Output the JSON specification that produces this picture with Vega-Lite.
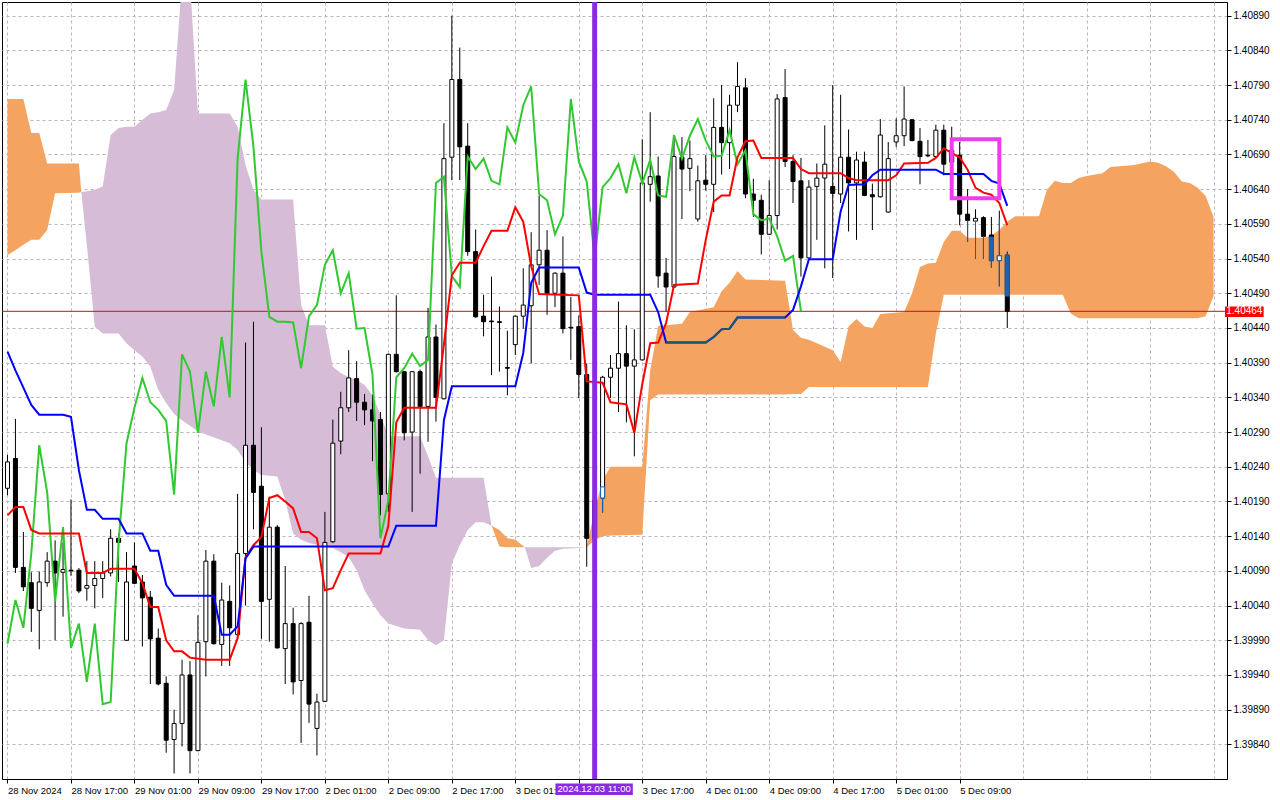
{
"$schema": "https://vega.github.io/schema/vega-lite/v6.json",
"width": 1225, "height": 777,
"autosize": {"type": "none"},
"padding": {"left": 2, "top": 2, "right": 53, "bottom": 21},
"background": "white",
"config": {
 "view": {"stroke": "#000000", "strokeWidth": 1},
 "axis": {"labelFont": "Liberation Sans, Arial, sans-serif", "labelFontSize": 10, "labelColor": "#000000", "domainColor": "#000000", "tickColor": "#000000", "gridDash": [3, 3], "gridWidth": 1, "labelOverlap": false, "labelBound": false, "labelFlush": false},
 "axisY": {"labelOverlap": false, "labelSeparation": 0},
 "axisRight": {"labelOverlap": false}
},
"datasets": {
 "candles": [
{"i":0,"o":1.40209,"h":1.40257,"l":1.40199,"c":1.40247},
{"i":1,"o":1.40252,"h":1.40309,"l":1.40087,"c":1.40095},
{"i":2,"o":1.40095,"h":1.40146,"l":1.40061,"c":1.40067},
{"i":3,"o":1.40073,"h":1.40088,"l":1.40002,"c":1.40036},
{"i":4,"o":1.40033,"h":1.40089,"l":1.39977,"c":1.40074},
{"i":5,"o":1.40073,"h":1.40117,"l":1.40067,"c":1.40104},
{"i":6,"o":1.40104,"h":1.40134,"l":1.39990,"c":1.40087},
{"i":7,"o":1.40088,"h":1.40131,"l":1.40024,"c":1.40092},
{"i":8,"o":1.40091,"h":1.40193,"l":1.40083,"c":1.40090},
{"i":9,"o":1.40091,"h":1.40094,"l":1.40058,"c":1.40061},
{"i":10,"o":1.40065,"h":1.40104,"l":1.40047,"c":1.40069},
{"i":11,"o":1.40069,"h":1.40104,"l":1.40036,"c":1.40079},
{"i":12,"o":1.40079,"h":1.40104,"l":1.40051,"c":1.40087},
{"i":13,"o":1.40087,"h":1.40150,"l":1.40082,"c":1.40137},
{"i":14,"o":1.40137,"h":1.40144,"l":1.40074,"c":1.40131},
{"i":15,"o":1.39990,"h":1.40117,"l":1.39989,"c":1.40074},
{"i":16,"o":1.40097,"h":1.40131,"l":1.40071,"c":1.40072},
{"i":17,"o":1.40074,"h":1.40084,"l":1.39981,"c":1.40051},
{"i":18,"o":1.40052,"h":1.40061,"l":1.39927,"c":1.39992},
{"i":19,"o":1.39993,"h":1.40007,"l":1.39925,"c":1.39927},
{"i":20,"o":1.39928,"h":1.39938,"l":1.39828,"c":1.39846},
{"i":21,"o":1.39847,"h":1.39890,"l":1.39798,"c":1.39870},
{"i":22,"o":1.39870,"h":1.39962,"l":1.39837,"c":1.39940},
{"i":23,"o":1.39940,"h":1.39960,"l":1.39798,"c":1.39831},
{"i":24,"o":1.39831,"h":1.40026,"l":1.39830,"c":1.39987},
{"i":25,"o":1.39988,"h":1.40120,"l":1.39938,"c":1.40104},
{"i":26,"o":1.40104,"h":1.40114,"l":1.39984,"c":1.39985},
{"i":27,"o":1.39984,"h":1.40073,"l":1.39953,"c":1.40048},
{"i":28,"o":1.40046,"h":1.40069,"l":1.39953,"c":1.40008},
{"i":29,"o":1.39998,"h":1.40201,"l":1.39992,"c":1.40115},
{"i":30,"o":1.40115,"h":1.40419,"l":1.40040,"c":1.40271},
{"i":31,"o":1.40271,"h":1.40449,"l":1.40150,"c":1.40203},
{"i":32,"o":1.40212,"h":1.40297,"l":1.39992,"c":1.40046},
{"i":33,"o":1.40049,"h":1.40197,"l":1.39988,"c":1.40153},
{"i":34,"o":1.40153,"h":1.40156,"l":1.39978,"c":1.39979},
{"i":35,"o":1.39978,"h":1.40097,"l":1.39927,"c":1.40014},
{"i":36,"o":1.40014,"h":1.40037,"l":1.39912,"c":1.39930},
{"i":37,"o":1.39932,"h":1.40016,"l":1.39842,"c":1.40014},
{"i":38,"o":1.40016,"h":1.40054,"l":1.39871,"c":1.39898},
{"i":39,"o":1.39863,"h":1.39913,"l":1.39824,"c":1.39901},
{"i":40,"o":1.39902,"h":1.40175,"l":1.39901,"c":1.40131},
{"i":41,"o":1.40132,"h":1.40308,"l":1.40130,"c":1.40274},
{"i":42,"o":1.40277,"h":1.40348,"l":1.40258,"c":1.40325},
{"i":43,"o":1.40325,"h":1.40408,"l":1.40319,"c":1.40368},
{"i":44,"o":1.40367,"h":1.40392,"l":1.40306,"c":1.40333},
{"i":45,"o":1.40333,"h":1.40345,"l":1.40300,"c":1.40322},
{"i":46,"o":1.40322,"h":1.40344,"l":1.40248,"c":1.40306},
{"i":47,"o":1.40308,"h":1.40319,"l":1.40170,"c":1.40200},
{"i":48,"o":1.40201,"h":1.40403,"l":1.40175,"c":1.40402},
{"i":49,"o":1.40402,"h":1.40487,"l":1.40376,"c":1.40377},
{"i":50,"o":1.40377,"h":1.40378,"l":1.40278,"c":1.40289},
{"i":51,"o":1.40290,"h":1.40378,"l":1.40175,"c":1.40377},
{"i":52,"o":1.40377,"h":1.40380,"l":1.40230,"c":1.40327},
{"i":53,"o":1.40327,"h":1.40469,"l":1.40276,"c":1.40427},
{"i":54,"o":1.40427,"h":1.40445,"l":1.40305,"c":1.40340},
{"i":55,"o":1.40338,"h":1.40735,"l":1.40337,"c":1.40684},
{"i":56,"o":1.40686,"h":1.40890,"l":1.40653,"c":1.40798},
{"i":57,"o":1.40798,"h":1.40844,"l":1.40653,"c":1.40701},
{"i":58,"o":1.40702,"h":1.40735,"l":1.40544,"c":1.40550},
{"i":59,"o":1.40550,"h":1.40582,"l":1.40455,"c":1.40456},
{"i":60,"o":1.40457,"h":1.40488,"l":1.40428,"c":1.40449},
{"i":61,"o":1.40450,"h":1.40514,"l":1.40372,"c":1.40449},
{"i":62,"o":1.40449,"h":1.40471,"l":1.40377,"c":1.40448},
{"i":63,"o":1.40383,"h":1.40436,"l":1.40343,"c":1.40382},
{"i":64,"o":1.40416,"h":1.40458,"l":1.40401,"c":1.40457},
{"i":65,"o":1.40457,"h":1.40526,"l":1.40439,"c":1.40473},
{"i":66,"o":1.40472,"h":1.40578,"l":1.40389,"c":1.40531},
{"i":67,"o":1.40531,"h":1.40631,"l":1.40502,"c":1.40552},
{"i":68,"o":1.40552,"h":1.40581,"l":1.40459,"c":1.40490},
{"i":69,"o":1.40490,"h":1.40520,"l":1.40470,"c":1.40519},
{"i":70,"o":1.40519,"h":1.40572,"l":1.40432,"c":1.40439},
{"i":71,"o":1.40441,"h":1.40485,"l":1.40394,"c":1.40440},
{"i":72,"o":1.40442,"h":1.40458,"l":1.40339,"c":1.40373},
{"i":73,"o":1.40373,"h":1.40389,"l":1.40096,"c":1.40137},
{"i":74,"o":1.40137,"h":1.40207,"l":1.40106,"c":1.40192},
{"i":75,"o":1.40195,"h":1.40371,"l":1.40174,"c":1.40369},
{"i":76,"o":1.40369,"h":1.40401,"l":1.40339,"c":1.40382},
{"i":77,"o":1.40382,"h":1.40478,"l":1.40319,"c":1.40403},
{"i":78,"o":1.40403,"h":1.40444,"l":1.40304,"c":1.40385},
{"i":79,"o":1.40385,"h":1.40438,"l":1.40255,"c":1.40394},
{"i":80,"o":1.40394,"h":1.40712,"l":1.40393,"c":1.40649},
{"i":81,"o":1.40647,"h":1.40751,"l":1.40622,"c":1.40658},
{"i":82,"o":1.40659,"h":1.40687,"l":1.40498,"c":1.40515},
{"i":83,"o":1.40519,"h":1.40541,"l":1.40464,"c":1.40499},
{"i":84,"o":1.40499,"h":1.40717,"l":1.40498,"c":1.40687},
{"i":85,"o":1.40686,"h":1.40715,"l":1.40597,"c":1.40669},
{"i":86,"o":1.40670,"h":1.40710,"l":1.40637,"c":1.40684},
{"i":87,"o":1.40597,"h":1.40674,"l":1.40593,"c":1.40652},
{"i":88,"o":1.40653,"h":1.40689,"l":1.40638,"c":1.40647},
{"i":89,"o":1.40647,"h":1.40771,"l":1.40607,"c":1.40729},
{"i":90,"o":1.40729,"h":1.40790,"l":1.40661,"c":1.40707},
{"i":91,"o":1.40707,"h":1.40776,"l":1.40669,"c":1.40761},
{"i":92,"o":1.40761,"h":1.40823,"l":1.40751,"c":1.40788},
{"i":93,"o":1.40786,"h":1.40800,"l":1.40627,"c":1.40633},
{"i":94,"o":1.40633,"h":1.40655,"l":1.40600,"c":1.40624},
{"i":95,"o":1.40624,"h":1.40632,"l":1.40546,"c":1.40575},
{"i":96,"o":1.40575,"h":1.40653,"l":1.40574,"c":1.40602},
{"i":97,"o":1.40602,"h":1.40777,"l":1.40582,"c":1.40770},
{"i":98,"o":1.40772,"h":1.40813,"l":1.40672,"c":1.40680},
{"i":99,"o":1.40680,"h":1.40689,"l":1.40620,"c":1.40651},
{"i":100,"o":1.40652,"h":1.40685,"l":1.40514,"c":1.40541},
{"i":101,"o":1.40541,"h":1.40653,"l":1.40540,"c":1.40643},
{"i":102,"o":1.40644,"h":1.40677,"l":1.40567,"c":1.40656},
{"i":103,"o":1.40656,"h":1.40732,"l":1.40526,"c":1.40676},
{"i":104,"o":1.40644,"h":1.40790,"l":1.40512,"c":1.40634},
{"i":105,"o":1.40633,"h":1.40776,"l":1.40620,"c":1.40686},
{"i":106,"o":1.40686,"h":1.40726,"l":1.40579,"c":1.40649},
{"i":107,"o":1.40649,"h":1.40694,"l":1.40567,"c":1.40682},
{"i":108,"o":1.40679,"h":1.40694,"l":1.40630,"c":1.40631},
{"i":109,"o":1.40632,"h":1.40648,"l":1.40581,"c":1.40629},
{"i":110,"o":1.40629,"h":1.40741,"l":1.40628,"c":1.40718},
{"i":111,"o":1.40607,"h":1.40708,"l":1.40606,"c":1.40684},
{"i":112,"o":1.40708,"h":1.40742,"l":1.40701,"c":1.40717},
{"i":113,"o":1.40717,"h":1.40788,"l":1.40702,"c":1.40741},
{"i":114,"o":1.40740,"h":1.40741,"l":1.40709,"c":1.40710},
{"i":115,"o":1.40709,"h":1.40728,"l":1.40647,"c":1.40687},
{"i":116,"o":1.40689,"h":1.40711,"l":1.40686,"c":1.40688},
{"i":117,"o":1.40687,"h":1.40733,"l":1.40686,"c":1.40725},
{"i":118,"o":1.40725,"h":1.40733,"l":1.40660,"c":1.40676},
{"i":119,"o":1.40679,"h":1.40730,"l":1.40668,"c":1.40696},
{"i":120,"o":1.40689,"h":1.40708,"l":1.40588,"c":1.40604},
{"i":121,"o":1.40604,"h":1.40640,"l":1.40564,"c":1.40595},
{"i":122,"o":1.40594,"h":1.40611,"l":1.40540,"c":1.40598},
{"i":123,"o":1.40599,"h":1.40601,"l":1.40540,"c":1.40572},
{"i":124,"o":1.40574,"h":1.40600,"l":1.40527,"c":1.40537},
{"i":125,"o":1.40537,"h":1.40609,"l":1.40500,"c":1.40544},
{"i":126,"o":1.40545,"h":1.40550,"l":1.40440,"c":1.40464}
 ],
 "chikou": [
{"i":0,"v":1.39985},{"i":1,"v":1.40048},{"i":2,"v":1.40008},{"i":3,"v":1.40115},{"i":4,"v":1.40271},{"i":5,"v":1.40203},{"i":6,"v":1.40046},{"i":7,"v":1.40153},{"i":8,"v":1.39979},{"i":9,"v":1.40014},
{"i":10,"v":1.39930},{"i":11,"v":1.40014},{"i":12,"v":1.39898},{"i":13,"v":1.39901},{"i":14,"v":1.40131},{"i":15,"v":1.40274},{"i":16,"v":1.40325},{"i":17,"v":1.40368},{"i":18,"v":1.40333},{"i":19,"v":1.40322},
{"i":20,"v":1.40306},{"i":21,"v":1.40200},{"i":22,"v":1.40402},{"i":23,"v":1.40377},{"i":24,"v":1.40289},{"i":25,"v":1.40377},{"i":26,"v":1.40327},{"i":27,"v":1.40427},{"i":28,"v":1.40340},{"i":29,"v":1.40684},
{"i":30,"v":1.40798},{"i":31,"v":1.40701},{"i":32,"v":1.40550},{"i":33,"v":1.40456},{"i":34,"v":1.40449},{"i":35,"v":1.40449},{"i":36,"v":1.40448},{"i":37,"v":1.40382},{"i":38,"v":1.40457},{"i":39,"v":1.40473},
{"i":40,"v":1.40531},{"i":41,"v":1.40552},{"i":42,"v":1.40490},{"i":43,"v":1.40519},{"i":44,"v":1.40439},{"i":45,"v":1.40440},{"i":46,"v":1.40373},{"i":47,"v":1.40137},{"i":48,"v":1.40192},{"i":49,"v":1.40369},
{"i":50,"v":1.40382},{"i":51,"v":1.40403},{"i":52,"v":1.40385},{"i":53,"v":1.40394},{"i":54,"v":1.40649},{"i":55,"v":1.40658},{"i":56,"v":1.40515},{"i":57,"v":1.40499},{"i":58,"v":1.40687},{"i":59,"v":1.40669},
{"i":60,"v":1.40684},{"i":61,"v":1.40652},{"i":62,"v":1.40647},{"i":63,"v":1.40729},{"i":64,"v":1.40707},{"i":65,"v":1.40761},{"i":66,"v":1.40788},{"i":67,"v":1.40633},{"i":68,"v":1.40624},{"i":69,"v":1.40575},
{"i":70,"v":1.40602},{"i":71,"v":1.40770},{"i":72,"v":1.40680},{"i":73,"v":1.40651},{"i":74,"v":1.40541},{"i":75,"v":1.40643},{"i":76,"v":1.40656},{"i":77,"v":1.40676},{"i":78,"v":1.40634},{"i":79,"v":1.40686},
{"i":80,"v":1.40649},{"i":81,"v":1.40682},{"i":82,"v":1.40631},{"i":83,"v":1.40629},{"i":84,"v":1.40718},{"i":85,"v":1.40684},{"i":86,"v":1.40717},{"i":87,"v":1.40741},{"i":88,"v":1.40710},{"i":89,"v":1.40687},
{"i":90,"v":1.40688},{"i":91,"v":1.40725},{"i":92,"v":1.40676},{"i":93,"v":1.40696},{"i":94,"v":1.40604},{"i":95,"v":1.40595},{"i":96,"v":1.40598},{"i":97,"v":1.40572},{"i":98,"v":1.40537},{"i":99,"v":1.40544},
{"i":100,"v":1.40464}
 ],
 "tenkan": [
{"i":0,"v":1.40170},{"i":1,"v":1.40182},{"i":2,"v":1.40182},{"i":3,"v":1.40149},{"i":4,"v":1.40144},{"i":9,"v":1.40144},{"i":10,"v":1.40087},{"i":12,"v":1.40087},{"i":13,"v":1.40093},{"i":16,"v":1.40093},
{"i":17,"v":1.40072},{"i":18,"v":1.40038},{"i":19,"v":1.40038},{"i":20,"v":1.39990},{"i":21,"v":1.39974},{"i":22,"v":1.39974},{"i":23,"v":1.39965},{"i":25,"v":1.39962},{"i":28,"v":1.39962},{"i":29,"v":1.39993},
{"i":30,"v":1.40110},{"i":31,"v":1.40127},{"i":32,"v":1.40139},{"i":33,"v":1.40195},{"i":34,"v":1.40199},{"i":35,"v":1.40190},{"i":36,"v":1.40180},{"i":37,"v":1.40146},{"i":38,"v":1.40146},{"i":39,"v":1.40137},
{"i":40,"v":1.40062},{"i":41,"v":1.40065},{"i":42,"v":1.40091},{"i":43,"v":1.40115},{"i":47,"v":1.40115},{"i":48,"v":1.40155},{"i":49,"v":1.40304},{"i":50,"v":1.40325},{"i":54,"v":1.40325},{"i":55,"v":1.40416},
{"i":56,"v":1.40516},{"i":57,"v":1.40534},{"i":59,"v":1.40534},{"i":60,"v":1.40558},{"i":61,"v":1.40580},{"i":63,"v":1.40580},{"i":64,"v":1.40614},{"i":65,"v":1.40593},{"i":66,"v":1.40529},{"i":67,"v":1.40489},
{"i":72,"v":1.40487},{"i":73,"v":1.40363},{"i":75,"v":1.40361},{"i":76,"v":1.40333},{"i":78,"v":1.40330},{"i":79,"v":1.40289},{"i":80,"v":1.40359},{"i":81,"v":1.40418},{"i":82,"v":1.40419},{"i":83,"v":1.40447},
{"i":84,"v":1.40502},{"i":87,"v":1.40504},{"i":88,"v":1.40567},{"i":89,"v":1.40622},{"i":90,"v":1.40631},{"i":91,"v":1.40631},{"i":92,"v":1.40686},{"i":93,"v":1.40709},{"i":94,"v":1.40710},{"i":95,"v":1.40685},
{"i":99,"v":1.40685},{"i":100,"v":1.40669},{"i":101,"v":1.40663},{"i":105,"v":1.40663},{"i":106,"v":1.40656},{"i":107,"v":1.40653},{"i":111,"v":1.40653},{"i":112,"v":1.40660},{"i":113,"v":1.40677},{"i":116,"v":1.40678},
{"i":117,"v":1.40685},{"i":118,"v":1.40699},{"i":119,"v":1.40692},{"i":120,"v":1.40686},{"i":121,"v":1.40668},{"i":122,"v":1.40642},{"i":123,"v":1.40635},{"i":124,"v":1.40632},{"i":125,"v":1.40620},{"i":126,"v":1.40588}
 ],
 "kijun": [
{"i":0,"v":1.40406},{"i":1,"v":1.40379},{"i":2,"v":1.40354},{"i":3,"v":1.40329},{"i":4,"v":1.40315},{"i":7,"v":1.40315},{"i":8,"v":1.40312},{"i":9,"v":1.40235},{"i":10,"v":1.40178},{"i":11,"v":1.40178},
{"i":12,"v":1.40165},{"i":14,"v":1.40165},{"i":15,"v":1.40144},{"i":17,"v":1.40144},{"i":18,"v":1.40119},{"i":19,"v":1.40119},{"i":20,"v":1.40070},{"i":21,"v":1.40054},{"i":26,"v":1.40054},{"i":27,"v":1.39998},
{"i":28,"v":1.39998},{"i":29,"v":1.40010},{"i":30,"v":1.40108},{"i":31,"v":1.40125},{"i":48,"v":1.40125},{"i":49,"v":1.40155},{"i":54,"v":1.40155},{"i":55,"v":1.40307},{"i":56,"v":1.40356},{"i":64,"v":1.40356},
{"i":65,"v":1.40404},{"i":66,"v":1.40505},{"i":67,"v":1.40527},{"i":72,"v":1.40527},{"i":73,"v":1.40491},{"i":74,"v":1.40488},{"i":81,"v":1.40488},{"i":82,"v":1.40463},{"i":83,"v":1.40419},{"i":88,"v":1.40419},
{"i":89,"v":1.40427},{"i":90,"v":1.40438},{"i":91,"v":1.40439},{"i":92,"v":1.40455},{"i":98,"v":1.40455},{"i":99,"v":1.40466},{"i":100,"v":1.40500},{"i":101,"v":1.40539},{"i":104,"v":1.40539},{"i":105,"v":1.40608},
{"i":106,"v":1.40646},{"i":108,"v":1.40647},{"i":109,"v":1.40660},{"i":110,"v":1.40668},{"i":117,"v":1.40668},{"i":118,"v":1.40662},{"i":123,"v":1.40662},{"i":124,"v":1.40652},{"i":125,"v":1.40648},{"i":126,"v":1.40616}
 ],
 "cloud": [
{"i":0,"up":1.40770,"lo":1.40545,"kind":"A","seg":1},{"i":1,"up":1.40770,"lo":1.40552,"kind":"A","seg":1},{"i":2,"up":1.40770,"lo":1.40560,"kind":"A","seg":1},{"i":3,"up":1.40721,"lo":1.40567,"kind":"A","seg":1},{"i":4,"up":1.40721,"lo":1.40567,"kind":"A","seg":1},{"i":5,"up":1.40677,"lo":1.40581,"kind":"A","seg":1},{"i":6,"up":1.40677,"lo":1.40634,"kind":"A","seg":1},{"i":9,"up":1.40677,"lo":1.40635,"kind":"A","seg":1},{"i":9.3,"up":1.40636,"lo":1.40636,"kind":"A","seg":1},
{"i":9.3,"up":1.40636,"lo":1.40636,"kind":"B","seg":2},{"i":10,"up":1.40637,"lo":1.40560,"kind":"B","seg":2},{"i":11,"up":1.40639,"lo":1.40442,"kind":"B","seg":2},{"i":12,"up":1.40644,"lo":1.40432,"kind":"B","seg":2},{"i":13,"up":1.40718,"lo":1.40432,"kind":"B","seg":2},{"i":14,"up":1.40728,"lo":1.40432,"kind":"B","seg":2},{"i":15,"up":1.40730,"lo":1.40418,"kind":"B","seg":2},{"i":16,"up":1.40730,"lo":1.40408,"kind":"B","seg":2},{"i":17,"up":1.40740,"lo":1.40399,"kind":"B","seg":2},{"i":18,"up":1.40749,"lo":1.40384,"kind":"B","seg":2},{"i":19,"up":1.40751,"lo":1.40351,"kind":"B","seg":2},{"i":20,"up":1.40754,"lo":1.40332,"kind":"B","seg":2},{"i":21,"up":1.40783,"lo":1.40316,"kind":"B","seg":2},{"i":22,"up":1.40941,"lo":1.40307,"kind":"B","seg":2},{"i":23,"up":1.40941,"lo":1.40299,"kind":"B","seg":2},{"i":24,"up":1.40749,"lo":1.40291,"kind":"B","seg":2},{"i":28,"up":1.40749,"lo":1.40274,"kind":"B","seg":2},{"i":29,"up":1.40730,"lo":1.40264,"kind":"B","seg":2},{"i":30,"up":1.40675,"lo":1.40247,"kind":"B","seg":2},{"i":31,"up":1.40639,"lo":1.40235,"kind":"B","seg":2},{"i":32,"up":1.40625,"lo":1.40228,"kind":"B","seg":2},{"i":34,"up":1.40625,"lo":1.40226,"kind":"B","seg":2},{"i":35,"up":1.40625,"lo":1.40192,"kind":"B","seg":2},{"i":36,"up":1.40625,"lo":1.40144,"kind":"B","seg":2},{"i":37,"up":1.40473,"lo":1.40135,"kind":"B","seg":2},{"i":38,"up":1.40444,"lo":1.40130,"kind":"B","seg":2},{"i":40,"up":1.40444,"lo":1.40125,"kind":"B","seg":2},{"i":41,"up":1.40384,"lo":1.40123,"kind":"B","seg":2},{"i":42,"up":1.40375,"lo":1.40117,"kind":"B","seg":2},{"i":43,"up":1.40369,"lo":1.40110,"kind":"B","seg":2},{"i":44,"up":1.40365,"lo":1.40091,"kind":"B","seg":2},{"i":45,"up":1.40358,"lo":1.40062,"kind":"B","seg":2},{"i":46,"up":1.40343,"lo":1.40043,"kind":"B","seg":2},{"i":47,"up":1.40315,"lo":1.40026,"kind":"B","seg":2},{"i":48,"up":1.40284,"lo":1.40014,"kind":"B","seg":2},{"i":50,"up":1.40284,"lo":1.40007,"kind":"B","seg":2},{"i":52,"up":1.40284,"lo":1.40005,"kind":"B","seg":2},{"i":53,"up":1.40255,"lo":1.39990,"kind":"B","seg":2},{"i":54,"up":1.40224,"lo":1.39983,"kind":"B","seg":2},{"i":55,"up":1.40224,"lo":1.39990,"kind":"B","seg":2},{"i":56,"up":1.40224,"lo":1.40101,"kind":"B","seg":2},{"i":57,"up":1.40224,"lo":1.40127,"kind":"B","seg":2},{"i":58,"up":1.40224,"lo":1.40149,"kind":"B","seg":2},{"i":59,"up":1.40224,"lo":1.40160,"kind":"B","seg":2},{"i":60,"up":1.40224,"lo":1.40160,"kind":"B","seg":2},{"i":61,"up":1.40155,"lo":1.40155,"kind":"B","seg":2},
{"i":61,"up":1.40155,"lo":1.40155,"kind":"A","seg":3},{"i":62,"up":1.40149,"lo":1.40125,"kind":"A","seg":3},{"i":63,"up":1.40137,"lo":1.40124,"kind":"A","seg":3},{"i":64,"up":1.40135,"lo":1.40124,"kind":"A","seg":3},{"i":65,"up":1.40126,"lo":1.40124,"kind":"A","seg":3},{"i":65.2,"up":1.40124,"lo":1.40124,"kind":"A","seg":3},
{"i":65.2,"up":1.40124,"lo":1.40124,"kind":"B","seg":4},{"i":66,"up":1.40124,"lo":1.40094,"kind":"B","seg":4},{"i":67,"up":1.40124,"lo":1.40097,"kind":"B","seg":4},{"i":68,"up":1.40124,"lo":1.40109,"kind":"B","seg":4},{"i":69,"up":1.40124,"lo":1.40119,"kind":"B","seg":4},{"i":70,"up":1.40124,"lo":1.40122,"kind":"B","seg":4},{"i":72,"up":1.40124,"lo":1.40123,"kind":"B","seg":4},{"i":73,"up":1.40124,"lo":1.40124,"kind":"B","seg":4},
{"i":73,"up":1.40124,"lo":1.40124,"kind":"A","seg":5},{"i":74,"up":1.40178,"lo":1.40135,"kind":"A","seg":5},{"i":75,"up":1.40221,"lo":1.40140,"kind":"A","seg":5},{"i":76,"up":1.40240,"lo":1.40141,"kind":"A","seg":5},{"i":80,"up":1.40240,"lo":1.40142,"kind":"A","seg":5},{"i":81,"up":1.40379,"lo":1.40336,"kind":"A","seg":5},{"i":82,"up":1.40443,"lo":1.40344,"kind":"A","seg":5},{"i":85,"up":1.40446,"lo":1.40344,"kind":"A","seg":5},{"i":86,"up":1.40463,"lo":1.40344,"kind":"A","seg":5},{"i":89,"up":1.40470,"lo":1.40344,"kind":"A","seg":5},{"i":90,"up":1.40493,"lo":1.40344,"kind":"A","seg":5},{"i":91,"up":1.40505,"lo":1.40344,"kind":"A","seg":5},{"i":92,"up":1.40522,"lo":1.40344,"kind":"A","seg":5},{"i":93,"up":1.40510,"lo":1.40344,"kind":"A","seg":5},{"i":98,"up":1.40508,"lo":1.40344,"kind":"A","seg":5},{"i":99,"up":1.40437,"lo":1.40345,"kind":"A","seg":5},{"i":100,"up":1.40426,"lo":1.40345,"kind":"A","seg":5},{"i":101,"up":1.40423,"lo":1.40355,"kind":"A","seg":5},{"i":104,"up":1.40408,"lo":1.40355,"kind":"A","seg":5},{"i":105,"up":1.40391,"lo":1.40355,"kind":"A","seg":5},{"i":106,"up":1.40442,"lo":1.40355,"kind":"A","seg":5},{"i":107,"up":1.40453,"lo":1.40355,"kind":"A","seg":5},{"i":108,"up":1.40442,"lo":1.40355,"kind":"A","seg":5},{"i":109,"up":1.40440,"lo":1.40355,"kind":"A","seg":5},{"i":110,"up":1.40460,"lo":1.40355,"kind":"A","seg":5},{"i":113,"up":1.40463,"lo":1.40355,"kind":"A","seg":5},{"i":114,"up":1.40490,"lo":1.40355,"kind":"A","seg":5},{"i":115,"up":1.40528,"lo":1.40355,"kind":"A","seg":5},{"i":116,"up":1.40533,"lo":1.40355,"kind":"A","seg":5},{"i":117,"up":1.40534,"lo":1.40432,"kind":"A","seg":5},{"i":118,"up":1.40564,"lo":1.40488,"kind":"A","seg":5},{"i":119,"up":1.40580,"lo":1.40488,"kind":"A","seg":5},{"i":120,"up":1.40580,"lo":1.40488,"kind":"A","seg":5},{"i":121,"up":1.40570,"lo":1.40488,"kind":"A","seg":5},{"i":123,"up":1.40570,"lo":1.40488,"kind":"A","seg":5},{"i":124,"up":1.40573,"lo":1.40488,"kind":"A","seg":5},{"i":125,"up":1.40581,"lo":1.40488,"kind":"A","seg":5},{"i":126,"up":1.40593,"lo":1.40488,"kind":"A","seg":5},{"i":127,"up":1.40601,"lo":1.40488,"kind":"A","seg":5},{"i":130,"up":1.40601,"lo":1.40488,"kind":"A","seg":5},{"i":131,"up":1.40639,"lo":1.40488,"kind":"A","seg":5},{"i":132,"up":1.40652,"lo":1.40488,"kind":"A","seg":5},{"i":133,"up":1.40649,"lo":1.40488,"kind":"A","seg":5},{"i":134,"up":1.40649,"lo":1.40461,"kind":"A","seg":5},{"i":135,"up":1.40656,"lo":1.40454,"kind":"A","seg":5},{"i":136,"up":1.40659,"lo":1.40454,"kind":"A","seg":5},{"i":138,"up":1.40663,"lo":1.40454,"kind":"A","seg":5},{"i":139,"up":1.40672,"lo":1.40454,"kind":"A","seg":5},{"i":142,"up":1.40675,"lo":1.40454,"kind":"A","seg":5},{"i":144,"up":1.40680,"lo":1.40454,"kind":"A","seg":5},{"i":145,"up":1.40678,"lo":1.40454,"kind":"A","seg":5},{"i":146,"up":1.40673,"lo":1.40454,"kind":"A","seg":5},{"i":147,"up":1.40665,"lo":1.40454,"kind":"A","seg":5},{"i":148,"up":1.40651,"lo":1.40454,"kind":"A","seg":5},{"i":149,"up":1.40649,"lo":1.40454,"kind":"A","seg":5},{"i":150,"up":1.40642,"lo":1.40454,"kind":"A","seg":5},{"i":151,"up":1.40630,"lo":1.40457,"kind":"A","seg":5},{"i":152,"up":1.40600,"lo":1.40486,"kind":"A","seg":5}
 ],
 "blue": [
{"i":75,"lo":1.40174,"hi":1.40195,"part":"wick"},{"i":75,"lo":1.40195,"hi":1.40211,"part":"hollow"},
{"i":121,"lo":1.40564,"hi":1.40595,"part":"wick"},{"i":122,"lo":1.40540,"hi":1.40594,"part":"wick"},{"i":123,"lo":1.40540,"hi":1.40572,"part":"wick"},
{"i":124,"lo":1.40527,"hi":1.40537,"part":"wick"},{"i":124,"lo":1.40537,"hi":1.40571,"part":"body"},
{"i":125,"lo":1.40500,"hi":1.40598,"part":"wick"},{"i":125,"lo":1.40537,"hi":1.40544,"part":"hollow"},
{"i":126,"lo":1.40545,"hi":1.40548,"part":"wick"},{"i":126,"lo":1.40486,"hi":1.40545,"part":"body"}
 ]
},
"layer": [
 {
  "data": {"name": "cloud"},
  "mark": {"type": "area", "clip": true, "interpolate": "linear"},
  "encoding": {
   "x": {"field": "i", "type": "quantitative", "scale": {"domain": [-0.0625, 153.0625], "nice": false, "zero": false},
    "axis": {"orient": "bottom", "title": null, "grid": true, "gridColor": "#c4b0c4",
     "values": [0,4,8,12,16,20,24,28,32,36,40,44,48,52,56,60,64,68,72,76,80,84,88,92,96,100,104,108,112,116,120,124,128,132,136,140,144,148,152],
     "labelExpr": "(datum.value % 8 === 0 && datum.value <= 120) ? ['28 Nov 2024','28 Nov 17:00','29 Nov 01:00','29 Nov 09:00','29 Nov 17:00','2 Dec 01:00','2 Dec 09:00','2 Dec 17:00','3 Dec 01:','','3 Dec 17:00','4 Dec 01:00','4 Dec 09:00','4 Dec 17:00','5 Dec 01:00','5 Dec 09:00'][datum.value / 8] : ''",
     "labelAlign": "left", "labelBaseline": "top", "labelPadding": 2, "labelOffset": 0, "labelOverlap": false, "labelFlush": false, "labelFontSize": 9.5,
     "tickSize": 4, "tickOpacity": {"condition": {"test": "datum.value % 8 === 0 && datum.value <= 120", "value": 1}, "value": 0}}},
   "y": {"field": "up", "type": "quantitative", "stack": null, "scale": {"domain": [1.397901, 1.409097], "nice": false, "zero": false},
    "axis": {"orient": "right", "title": null, "grid": true, "gridColor": "#b4b8b0", "format": ".5f", "values": [1.3984,1.3989,1.3994,1.3999,1.4004,1.4009,1.4014,1.4019,1.4024,1.4029,1.4034,1.4039,1.4044,1.4049,1.4054,1.4059,1.4064,1.4069,1.4074,1.4079,1.4084,1.4089], "tickSize": 4, "labelPadding": 2, "labelOverlap": false, "labelFlush": false, "labelBound": false}},
   "y2": {"field": "lo"},
   "color": {"field": "kind", "type": "nominal", "scale": {"domain": ["A", "B"], "range": ["#f4a460", "#d6bcd6"]}, "legend": null},
   "detail": {"field": "seg", "type": "nominal"}
  }
 },
 {
  "data": {"values": [{}]},
  "mark": {"type": "rule", "color": "#c81414", "strokeWidth": 1},
  "encoding": {"y": {"datum": 1.40464, "type": "quantitative", "scale": {"domain": [1.397901, 1.409097], "nice": false, "zero": false}, "axis": {"orient": "right", "title": null, "grid": true, "gridColor": "#b4b8b0", "format": ".5f", "values": [1.3984,1.3989,1.3994,1.3999,1.4004,1.4009,1.4014,1.4019,1.4024,1.4029,1.4034,1.4039,1.4044,1.4049,1.4054,1.4059,1.4064,1.4069,1.4074,1.4079,1.4084,1.4089], "tickSize": 4, "labelPadding": 2, "labelOverlap": false, "labelFlush": false, "labelBound": false}}}
 },
 {
  "data": {"name": "candles"},
  "mark": {"type": "rule", "color": "#000000", "strokeWidth": 1, "clip": true},
  "encoding": {
   "x": {"field": "i", "type": "quantitative", "scale": {"domain": [-0.0625, 153.0625], "nice": false, "zero": false}, "axis": {"title": null}},
   "y": {"field": "l", "type": "quantitative", "scale": {"domain": [1.397901, 1.409097], "nice": false, "zero": false}, "axis": {"orient": "right", "title": null, "grid": true, "gridColor": "#b4b8b0", "format": ".5f", "values": [1.3984,1.3989,1.3994,1.3999,1.4004,1.4009,1.4014,1.4019,1.4024,1.4029,1.4034,1.4039,1.4044,1.4049,1.4054,1.4059,1.4064,1.4069,1.4074,1.4079,1.4084,1.4089], "tickSize": 4, "labelPadding": 2, "labelOverlap": false, "labelFlush": false, "labelBound": false}},
   "y2": {"field": "h"}
  }
 },
 {
  "data": {"name": "candles"},
  "mark": {"type": "bar", "width": 4, "stroke": "#000000", "strokeWidth": 1, "clip": true},
  "encoding": {
   "x": {"field": "i", "type": "quantitative", "scale": {"domain": [-0.0625, 153.0625], "nice": false, "zero": false}, "axis": {"title": null}},
   "y": {"field": "o", "type": "quantitative", "scale": {"domain": [1.397901, 1.409097], "nice": false, "zero": false}, "axis": {"orient": "right", "title": null, "grid": true, "gridColor": "#b4b8b0", "format": ".5f", "values": [1.3984,1.3989,1.3994,1.3999,1.4004,1.4009,1.4014,1.4019,1.4024,1.4029,1.4034,1.4039,1.4044,1.4049,1.4054,1.4059,1.4064,1.4069,1.4074,1.4079,1.4084,1.4089], "tickSize": 4, "labelPadding": 2, "labelOverlap": false, "labelFlush": false, "labelBound": false}},
   "y2": {"field": "c"},
   "fill": {"condition": {"test": "datum.c >= datum.o", "value": "#ffffff"}, "value": "#000000"}
  }
 },
 {
  "data": {"name": "blue"},
  "transform": [{"filter": "datum.part === 'wick'"}],
  "mark": {"type": "rule", "color": "#1a64b4", "strokeWidth": 1, "clip": true},
  "encoding": {
   "x": {"field": "i", "type": "quantitative", "scale": {"domain": [-0.0625, 153.0625], "nice": false, "zero": false}, "axis": {"title": null}},
   "y": {"field": "lo", "type": "quantitative", "scale": {"domain": [1.397901, 1.409097], "nice": false, "zero": false}, "axis": {"orient": "right", "title": null, "grid": true, "gridColor": "#b4b8b0", "format": ".5f", "values": [1.3984,1.3989,1.3994,1.3999,1.4004,1.4009,1.4014,1.4019,1.4024,1.4029,1.4034,1.4039,1.4044,1.4049,1.4054,1.4059,1.4064,1.4069,1.4074,1.4079,1.4084,1.4089], "tickSize": 4, "labelPadding": 2, "labelOverlap": false, "labelFlush": false, "labelBound": false}},
   "y2": {"field": "hi"}
  }
 },
 {
  "data": {"name": "blue"},
  "transform": [{"filter": "datum.part !== 'wick'"}],
  "mark": {"type": "bar", "width": 4, "stroke": "#1a64b4", "strokeWidth": 1, "clip": true},
  "encoding": {
   "x": {"field": "i", "type": "quantitative", "scale": {"domain": [-0.0625, 153.0625], "nice": false, "zero": false}, "axis": {"title": null}},
   "y": {"field": "lo", "type": "quantitative", "scale": {"domain": [1.397901, 1.409097], "nice": false, "zero": false}, "axis": {"orient": "right", "title": null, "grid": true, "gridColor": "#b4b8b0", "format": ".5f", "values": [1.3984,1.3989,1.3994,1.3999,1.4004,1.4009,1.4014,1.4019,1.4024,1.4029,1.4034,1.4039,1.4044,1.4049,1.4054,1.4059,1.4064,1.4069,1.4074,1.4079,1.4084,1.4089], "tickSize": 4, "labelPadding": 2, "labelOverlap": false, "labelFlush": false, "labelBound": false}},
   "y2": {"field": "hi"},
   "fill": {"condition": {"test": "datum.part === 'body'", "value": "#1a64b4"}, "value": "#ffffff"}
  }
 },
 {
  "data": {"name": "chikou"},
  "mark": {"type": "line", "color": "#32c832", "strokeWidth": 2, "clip": true},
  "encoding": {
   "x": {"field": "i", "type": "quantitative", "scale": {"domain": [-0.0625, 153.0625], "nice": false, "zero": false}, "axis": {"title": null}},
   "y": {"field": "v", "type": "quantitative", "scale": {"domain": [1.397901, 1.409097], "nice": false, "zero": false}, "axis": {"orient": "right", "title": null, "grid": true, "gridColor": "#b4b8b0", "format": ".5f", "values": [1.3984,1.3989,1.3994,1.3999,1.4004,1.4009,1.4014,1.4019,1.4024,1.4029,1.4034,1.4039,1.4044,1.4049,1.4054,1.4059,1.4064,1.4069,1.4074,1.4079,1.4084,1.4089], "tickSize": 4, "labelPadding": 2, "labelOverlap": false, "labelFlush": false, "labelBound": false}}
  }
 },
 {
  "data": {"name": "tenkan"},
  "mark": {"type": "line", "color": "#ff0000", "strokeWidth": 2, "clip": true},
  "encoding": {
   "x": {"field": "i", "type": "quantitative", "scale": {"domain": [-0.0625, 153.0625], "nice": false, "zero": false}, "axis": {"title": null}},
   "y": {"field": "v", "type": "quantitative", "scale": {"domain": [1.397901, 1.409097], "nice": false, "zero": false}, "axis": {"orient": "right", "title": null, "grid": true, "gridColor": "#b4b8b0", "format": ".5f", "values": [1.3984,1.3989,1.3994,1.3999,1.4004,1.4009,1.4014,1.4019,1.4024,1.4029,1.4034,1.4039,1.4044,1.4049,1.4054,1.4059,1.4064,1.4069,1.4074,1.4079,1.4084,1.4089], "tickSize": 4, "labelPadding": 2, "labelOverlap": false, "labelFlush": false, "labelBound": false}}
  }
 },
 {
  "data": {"name": "kijun"},
  "mark": {"type": "line", "color": "#0000ff", "strokeWidth": 2, "clip": true},
  "encoding": {
   "x": {"field": "i", "type": "quantitative", "scale": {"domain": [-0.0625, 153.0625], "nice": false, "zero": false}, "axis": {"title": null}},
   "y": {"field": "v", "type": "quantitative", "scale": {"domain": [1.397901, 1.409097], "nice": false, "zero": false}, "axis": {"orient": "right", "title": null, "grid": true, "gridColor": "#b4b8b0", "format": ".5f", "values": [1.3984,1.3989,1.3994,1.3999,1.4004,1.4009,1.4014,1.4019,1.4024,1.4029,1.4034,1.4039,1.4044,1.4049,1.4054,1.4059,1.4064,1.4069,1.4074,1.4079,1.4084,1.4089], "tickSize": 4, "labelPadding": 2, "labelOverlap": false, "labelFlush": false, "labelBound": false}}
  }
 },
 {
  "data": {"name": "kijun"},
  "transform": [{"filter": "datum.i >= 83 && datum.i <= 98"}],
  "mark": {"type": "line", "color": "#145a6e", "strokeWidth": 2, "clip": true},
  "encoding": {
   "x": {"field": "i", "type": "quantitative", "scale": {"domain": [-0.0625, 153.0625], "nice": false, "zero": false}, "axis": {"title": null}},
   "y": {"field": "v", "type": "quantitative", "scale": {"domain": [1.397901, 1.409097], "nice": false, "zero": false}, "axis": {"orient": "right", "title": null, "grid": true, "gridColor": "#b4b8b0", "format": ".5f", "values": [1.3984,1.3989,1.3994,1.3999,1.4004,1.4009,1.4014,1.4019,1.4024,1.4029,1.4034,1.4039,1.4044,1.4049,1.4054,1.4059,1.4064,1.4069,1.4074,1.4079,1.4084,1.4089], "tickSize": 4, "labelPadding": 2, "labelOverlap": false, "labelFlush": false, "labelBound": false}}
  }
 },
 {
  "data": {"values": [{}]},
  "mark": {"type": "rule", "color": "#8a2be2", "strokeWidth": 5},
  "encoding": {"x": {"datum": 74, "type": "quantitative", "scale": {"domain": [-0.0625, 153.0625], "nice": false, "zero": false}, "axis": {"title": null}}}
 },
 {
  "data": {"values": [{}]},
  "mark": {"type": "rect", "filled": false, "color": "#ee3cee", "strokeWidth": 4},
  "encoding": {
   "x": {"datum": 119, "type": "quantitative", "scale": {"domain": [-0.0625, 153.0625], "nice": false, "zero": false}, "axis": {"title": null}},
   "x2": {"datum": 125},
   "y": {"datum": 1.40712, "type": "quantitative", "scale": {"domain": [1.397901, 1.409097], "nice": false, "zero": false}, "axis": {"orient": "right", "title": null, "grid": true, "gridColor": "#b4b8b0", "format": ".5f", "values": [1.3984,1.3989,1.3994,1.3999,1.4004,1.4009,1.4014,1.4019,1.4024,1.4029,1.4034,1.4039,1.4044,1.4049,1.4054,1.4059,1.4064,1.4069,1.4074,1.4079,1.4084,1.4089], "tickSize": 4, "labelPadding": 2, "labelOverlap": false, "labelFlush": false, "labelBound": false}},
   "y2": {"datum": 1.40627}
  }
 },
 {
  "data": {"values": [{}]},
  "mark": {"type": "rect", "color": "#ff0000"},
  "encoding": {
   "x": {"datum": 153.44, "type": "quantitative", "scale": {"domain": [-0.0625, 153.0625], "nice": false, "zero": false}, "axis": {"title": null}},
   "x2": {"datum": 158.31},
   "y": {"datum": 1.404711, "type": "quantitative", "scale": {"domain": [1.397901, 1.409097], "nice": false, "zero": false}, "axis": {"orient": "right", "title": null, "grid": true, "gridColor": "#b4b8b0", "format": ".5f", "values": [1.3984,1.3989,1.3994,1.3999,1.4004,1.4009,1.4014,1.4019,1.4024,1.4029,1.4034,1.4039,1.4044,1.4049,1.4054,1.4059,1.4064,1.4069,1.4074,1.4079,1.4084,1.4089], "tickSize": 4, "labelPadding": 2, "labelOverlap": false, "labelFlush": false, "labelBound": false}},
   "y2": {"datum": 1.404558}
  }
 },
 {
  "data": {"values": [{}]},
  "mark": {"type": "text", "text": "1.40464", "color": "#ffffff", "font": "Liberation Sans, Arial, sans-serif", "fontSize": 10, "align": "center", "baseline": "middle"},
  "encoding": {
   "x": {"datum": 155.88, "type": "quantitative", "scale": {"domain": [-0.0625, 153.0625], "nice": false, "zero": false}, "axis": {"title": null}},
   "y": {"datum": 1.40464, "type": "quantitative", "scale": {"domain": [1.397901, 1.409097], "nice": false, "zero": false}, "axis": {"orient": "right", "title": null, "grid": true, "gridColor": "#b4b8b0", "format": ".5f", "values": [1.3984,1.3989,1.3994,1.3999,1.4004,1.4009,1.4014,1.4019,1.4024,1.4029,1.4034,1.4039,1.4044,1.4049,1.4054,1.4059,1.4064,1.4069,1.4074,1.4079,1.4084,1.4089], "tickSize": 4, "labelPadding": 2, "labelOverlap": false, "labelFlush": false, "labelBound": false}}
  }
 },
 {
  "data": {"values": [{}]},
  "mark": {"type": "rect", "color": "#8a2be2"},
  "encoding": {
   "x": {"datum": 69.06, "type": "quantitative", "scale": {"domain": [-0.0625, 153.0625], "nice": false, "zero": false}, "axis": {"title": null}},
   "x2": {"datum": 78.81},
   "y": {"datum": 1.397836, "type": "quantitative", "scale": {"domain": [1.397901, 1.409097], "nice": false, "zero": false}, "axis": {"orient": "right", "title": null, "grid": true, "gridColor": "#b4b8b0", "format": ".5f", "values": [1.3984,1.3989,1.3994,1.3999,1.4004,1.4009,1.4014,1.4019,1.4024,1.4029,1.4034,1.4039,1.4044,1.4049,1.4054,1.4059,1.4064,1.4069,1.4074,1.4079,1.4084,1.4089], "tickSize": 4, "labelPadding": 2, "labelOverlap": false, "labelFlush": false, "labelBound": false}},
   "y2": {"datum": 1.397670}
  }
 },
 {
  "data": {"values": [{}]},
  "mark": {"type": "text", "text": "2024.12.03 11:00", "color": "#ffffff", "font": "Liberation Sans, Arial, sans-serif", "fontSize": 9.5, "align": "center", "baseline": "middle"},
  "encoding": {
   "x": {"datum": 73.94, "type": "quantitative", "scale": {"domain": [-0.0625, 153.0625], "nice": false, "zero": false}, "axis": {"title": null}},
   "y": {"datum": 1.397753, "type": "quantitative", "scale": {"domain": [1.397901, 1.409097], "nice": false, "zero": false}, "axis": {"orient": "right", "title": null, "grid": true, "gridColor": "#b4b8b0", "format": ".5f", "values": [1.3984,1.3989,1.3994,1.3999,1.4004,1.4009,1.4014,1.4019,1.4024,1.4029,1.4034,1.4039,1.4044,1.4049,1.4054,1.4059,1.4064,1.4069,1.4074,1.4079,1.4084,1.4089], "tickSize": 4, "labelPadding": 2, "labelOverlap": false, "labelFlush": false, "labelBound": false}}
  }
 }
]
}
